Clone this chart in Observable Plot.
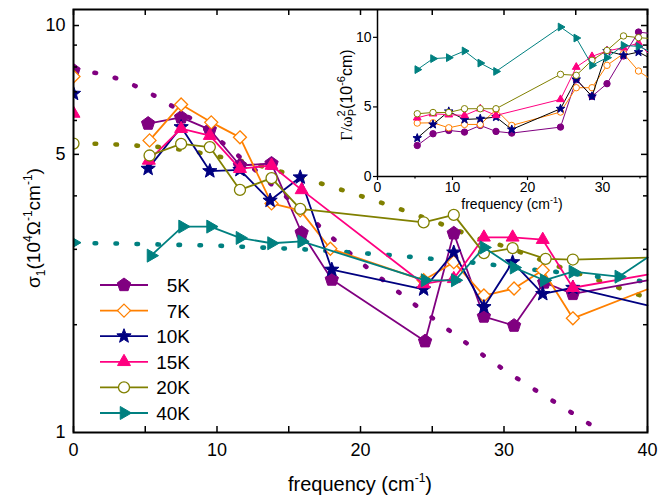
<!DOCTYPE html>
<html><head><meta charset="utf-8">
<script src="https://cdn.jsdelivr.net/npm/d3@7"></script>
<script src="https://cdn.jsdelivr.net/npm/@observablehq/plot@0.6"></script>
<style>
body{margin:0;background:#fff;}
#chart{position:relative;width:660px;height:497px;font-family:"Liberation Sans",Arial,sans-serif;}
#chart svg{position:absolute;}
</style></head><body><div id="chart"></div>
<script>
// ---------- main panel data: sigma_1 (10^4 Ohm^-1 cm^-1) vs frequency (cm^-1)
const seriesNames = ["5K","7K","10K","15K","20K","40K"];
const seriesColors = ["#800080","#FF8000","#000080","#FF0080","#808000","#008080"];

const freq5K  = [5.2, 7.5, 9.5, 11.6, 13.8, 15.9, 18.0, 24.5, 26.5, 28.6, 30.7, 32.8, 34.8, 40];
const sigma5K = [5.90, 6.10, 5.71, 4.71, 4.76, 3.28, 2.55, 1.83, 3.27, 2.09, 1.99, 2.51, 2.36, 2.54];
const freq7K  = [5.3, 7.5, 9.6, 11.6, 13.8, 15.8, 17.9, 24.4, 26.5, 28.6, 30.7, 32.7, 34.8, 40];
const sigma7K = [5.39, 6.54, 5.94, 5.48, 3.84, 3.70, 3.01, 2.54, 2.80, 2.34, 2.43, 2.68, 2.07, 2.42];
const freq10K  = [5.2, 7.5, 9.5, 11.6, 13.7, 15.8, 18.0, 24.4, 26.5, 28.6, 30.6, 32.7, 34.8, 40];
const sigma10K = [4.63, 5.79, 4.57, 4.60, 3.90, 4.42, 2.69, 2.42, 2.95, 2.20, 2.80, 2.36, 2.44, 2.22];
const freq15K  = [5.25, 7.5, 9.5, 11.6, 13.8, 15.9, 24.4, 26.5, 28.6, 30.6, 32.7, 34.8, 40];
const sigma15K = [4.84, 5.74, 5.53, 4.63, 4.71, 4.13, 2.49, 2.56, 3.20, 3.20, 3.16, 2.44, 2.62];
const freq20K  = [5.3, 7.5, 9.5, 11.6, 13.8, 15.8, 24.4, 26.5, 28.6, 30.6, 32.9, 34.8, 40];
const sigma20K = [4.97, 5.29, 5.20, 4.13, 4.40, 3.73, 3.47, 3.61, 2.94, 3.02, 2.85, 2.84, 2.87];
const freq40K  = [5.4, 7.6, 9.55, 11.6, 13.8, 15.9, 24.5, 26.6, 28.6, 30.7, 32.8, 34.8, 38.0, 40];
const sigma40K = [2.90, 3.39, 3.39, 3.19, 3.10, 3.13, 2.54, 2.54, 3.03, 2.72, 2.54, 2.66, 2.59, 2.87];

// DC values at zero frequency (same order as seriesNames)
const dcSigma = [7.85, 7.60, 6.93, 6.23, 5.30, 3.11];

// dotted Drude curves (5K, 20K, 40K)
const drudeFreq = [0,2,4,6,8,10,12,14,16,18,20,22,24,26,28,30,32,34,36,38,40];
const drude5K  = [7.85,7.70,7.30,6.75,6.12,5.45,4.80,4.20,3.68,3.20,2.80,2.48,2.20,1.96,1.75,1.57,1.42,1.29,1.17,1.06,0.97];
const drude20K = [5.30,5.29,5.25,5.20,5.10,4.95,4.80,4.60,4.40,4.20,4.00,3.80,3.60,3.40,3.20,3.05,2.88,2.72,2.58,2.44,2.31];
const drude40K = [3.10,3.10,3.09,3.08,3.07,3.06,3.04,3.02,3.00,2.97,2.94,2.91,2.87,2.83,2.79,2.74,2.69,2.65,2.60,2.56,2.52];

// axis ticks
const xTickLabels = [0,10,20,30,40];
const xTickMarks = [0,5,10,15,20,25,30,35,40];
const yTickValues = [1.12,5,10];
const yTickLabels = ["1","5","10"];
const yMinorTicks = [2,3,4,6,7,8,9];
const yMajorTicks = [5,10];

// ---------- inset data: Gamma/omega_p^2 (10^-6 cm) vs frequency
const insetFreq     = [5.3, 7.4, 9.5, 11.6, 13.7, 15.8, 17.9, 24.4, 26.5, 28.6, 30.6, 32.8, 34.8, 36];
const insetFreqNo18 = [5.3, 7.4, 9.5, 11.6, 13.7, 15.8, 24.4, 26.5, 28.6, 30.6, 32.8, 34.8, 36];
const gamma5K  = [2.23, 3.07, 3.31, 3.19, 3.67, 3.24, 3.12, 3.55, 6.96, 5.76, 6.67, 8.66, 10.38, 10.3];
const gamma7K  = [3.84, 3.86, 3.50, 3.74, 3.74, 4.80, 3.67, 4.63, 6.38, 6.38, 7.99, 8.83, 7.58, 7.14];
const gamma10K = [2.76, 3.74, 4.68, 4.10, 4.15, 4.27, 3.38, 4.87, 6.98, 5.76, 9.02, 8.71, 8.94, 8.6];
const gamma15K = [4.22, 4.51, 4.44, 4.39, 4.87, 4.39, 5.54, 7.86, 8.63, 9.02, 9.26, 9.59, 8.9];
const gamma20K = [4.51, 4.60, 4.60, 4.87, 4.87, 4.87, 7.34, 7.27, 8.35, 9.06, 10.1, 9.98, 9.93];
const gamma40K = [7.68, 8.47, 8.54, 9.02, 8.15, 7.55, 10.74, 9.95, 7.99, 8.54, 9.42, 9.35, 9.06];
const insetXTicks = [0,10,20,30];
const insetXMinor = [5,15,25,35];
const insetYTicks = [0,5,10];

// ---------- symbols
function poly(n, rot, k){
  return {draw(ctx, size){
    const R = Math.sqrt(size/Math.PI)*k;
    for(let i=0;i<n;i++){
      const a = rot + i*2*Math.PI/n;
      const x = R*Math.cos(a), y = R*Math.sin(a);
      if(i===0) ctx.moveTo(x,y); else ctx.lineTo(x,y);
    }
    ctx.closePath();
  }};
}
const symPentagon = poly(5, -Math.PI/2, 1);
const symDiamond = poly(4, -Math.PI/2, 1);
const symTriUp = poly(3, -Math.PI/2, 1);
const symTriRight = poly(3, 0, 1);
const symCircle = {draw(ctx,size){const r=Math.sqrt(size/Math.PI); ctx.moveTo(r,0); ctx.arc(0,0,r,0,2*Math.PI);}};
const symStar = {draw(ctx,size){
  const R=Math.sqrt(size/Math.PI), r=R*0.42;
  for(let i=0;i<10;i++){
    const a=-Math.PI/2+i*Math.PI/5, rr=i%2?r:R;
    const x=rr*Math.cos(a), y=rr*Math.sin(a);
    if(i===0) ctx.moveTo(x,y); else ctx.lineTo(x,y);
  }
  ctx.closePath();
}};

const mainFreqs = [freq5K,freq7K,freq10K,freq15K,freq20K,freq40K];
const mainSigmas = [sigma5K,sigma7K,sigma10K,sigma15K,sigma20K,sigma40K];
const mainSym = [symPentagon,symDiamond,symStar,symTriUp,symCircle,symTriRight];
const mainR = [7,6.5,7.5,7.5,5.5,7.5];
const openSym = [false,true,false,false,true,false];
const insetFreqs = [insetFreq,insetFreq,insetFreq,insetFreqNo18,insetFreqNo18,insetFreqNo18];
const insetGammas = [gamma5K,gamma7K,gamma10K,gamma15K,gamma20K,gamma40K];
const insetSym = [symCircle,symCircle,symStar,symTriUp,symCircle,symTriRight];
const insetR = [3.2,3.2,4.5,4.5,3.2,4.5];

// ---------- main plot
const MW=660, MH=497, ML=73, MR=13, MT=9, MB=65;
const IW = MW-ML-MR, IH = MH-MT-MB;
const marks = [];
const drudeSets = [[drude5K,seriesColors[0]],[drude20K,seriesColors[4]],[drude40K,seriesColors[5]]];
for(const [vals,col] of drudeSets){
  marks.push(Plot.line(drudeFreq.map((f,i)=>({f, s: vals[i]})), {x:"f", y:"s", stroke: col, strokeWidth: 4.6, strokeDasharray: "1.5,19.5", strokeLinecap: "round", curve: "catmull-rom", clip: true}));
}
seriesNames.forEach((name,k)=>{
  const rows = mainFreqs[k].map((f,i)=>({f, s: mainSigmas[k][i]}));
  marks.push(Plot.line(rows, {x:"f", y:"s", stroke: seriesColors[k], strokeWidth: 1.8}));
  marks.push(Plot.dot(rows.filter(d=>d.f<39.9), {x:"f", y:"s", symbol: mainSym[k], r: mainR[k], fill: openSym[k]?"white":seriesColors[k], stroke: seriesColors[k], strokeWidth: openSym[k]?1.3:1}));
  marks.push(Plot.dot([{f:0, s: dcSigma[k]}], {x:"f", y:"s", symbol: mainSym[k], r: mainR[k], fill: openSym[k]?"white":seriesColors[k], stroke: seriesColors[k], strokeWidth: openSym[k]?1.3:1, clip: true}));
});
marks.push(
  Plot.frame({stroke:"black", strokeWidth: 2}),
  Plot.tickX(xTickMarks, {x: d=>d, insetTop: IH-6, stroke:"black", strokeWidth:1.5}),
  Plot.tickX(xTickMarks, {x: d=>d, insetBottom: IH-6, stroke:"black", strokeWidth:1.5}),
  Plot.tickY(yMinorTicks, {y: d=>d, insetRight: IW-4, stroke:"black", strokeWidth:1.5}),
  Plot.tickY(yMinorTicks, {y: d=>d, insetLeft: IW-4, stroke:"black", strokeWidth:1.5}),
  Plot.tickY(yMajorTicks, {y: d=>d, insetRight: IW-6, stroke:"black", strokeWidth:1.5}),
  Plot.tickY(yMajorTicks, {y: d=>d, insetLeft: IW-6, stroke:"black", strokeWidth:1.5}),
  Plot.axisX({ticks: xTickLabels, tickSize: 0, tickPadding: 11, label: null}),
  Plot.axisY({ticks: yTickValues, tickFormat: d => yTickLabels[yTickValues.indexOf(d)], tickSize: 0, tickPadding: 8, label: null})
);
const main = Plot.plot({
  width: MW, height: MH, marginLeft: ML, marginRight: MR, marginTop: MT, marginBottom: MB,
  x: {domain: [0,40]},
  y: {type: "log", domain: [1.12, 10.9]},
  style: {fontFamily: "'Liberation Sans', Arial, sans-serif", fontSize: "18px", color: "black", background: "transparent", overflow: "visible"},
  marks
});
main.style.left = "0px"; main.style.top = "0px";
document.getElementById("chart").appendChild(main);

const msvg = d3.select(main);
// axis titles
const xt = msvg.append("text").attr("x", 360).attr("y", 491).attr("text-anchor","middle")
  .attr("font-size", 20).attr("font-family","'Liberation Sans', Arial, sans-serif").attr("fill","black");
xt.append("tspan").text("frequency (cm");
xt.append("tspan").attr("dy", -9).attr("font-size", 12).text("-1");
xt.append("tspan").attr("dy", 9).text(")");

const yt = msvg.append("text").attr("transform","translate(40,228) rotate(-90)").attr("text-anchor","middle")
  .attr("font-size", 19).attr("font-family","'Liberation Sans', Arial, sans-serif").attr("fill","black");
yt.append("tspan").text("σ");
yt.append("tspan").attr("dy", 5).attr("font-size", 12).text("1");
yt.append("tspan").attr("dy", -5).text("(10");
yt.append("tspan").attr("dy", -8).attr("font-size", 12).text("4");
yt.append("tspan").attr("dy", 8).text("Ω");
yt.append("tspan").attr("dy", -8).attr("font-size", 12).text("-1");
yt.append("tspan").attr("dy", 8).text("cm");
yt.append("tspan").attr("dy", -8).attr("font-size", 12).text("-1");
yt.append("tspan").attr("dy", 8).text(")");

// legend
const lg = msvg.append("g");
seriesNames.forEach((name,k)=>{
  const y = 285 + k*25.6;
  lg.append("line").attr("x1",100).attr("x2",148).attr("y1",y).attr("y2",y).attr("stroke",seriesColors[k]).attr("stroke-width",1.8);
  const p = d3.path(); mainSym[k].draw(p, Math.PI*mainR[k]*mainR[k]);
  lg.append("path").attr("d", p.toString()).attr("transform",`translate(124,${y})`)
    .attr("fill", openSym[k]?"white":seriesColors[k]).attr("stroke", seriesColors[k]).attr("stroke-width", openSym[k]?1.3:1);
  lg.append("text").attr("x",190).attr("y",y+7).attr("text-anchor","end").attr("font-size",19)
    .attr("font-family","'Liberation Sans', Arial, sans-serif").attr("fill","black").text(name);
});

// ---------- inset plot
const IL = 50, IR = 13, ITop = 9, IB = 30, INW = 333, INH = 206;
const imarks = [
  Plot.ruleX([0], {stroke:"black", strokeWidth: 1.5}),
  Plot.ruleY([0], {stroke:"black", strokeWidth: 1.5})
];
seriesNames.forEach((name,k)=>{
  const rows = insetFreqs[k].map((f,i)=>({f, g: insetGammas[k][i]}));
  imarks.push(Plot.line(rows, {x:"f", y:"g", stroke: k===2 ? "#000" : seriesColors[k], strokeWidth: 1}));
  imarks.push(Plot.dot(rows.filter(d=>d.f<35.9), {x:"f", y:"g", symbol: insetSym[k], r: insetR[k], fill: openSym[k]?"white":seriesColors[k], stroke: seriesColors[k], strokeWidth: 1}));
});
imarks.push(
  Plot.axisX({ticks: insetXTicks, tickSize: 4, tickPadding: 2, label: null, strokeWidth: 1.2}),
  Plot.axisX({ticks: insetXMinor, tickSize: 2.5, tickFormat: () => "", label: null, strokeWidth: 1.2}),
  Plot.axisY({ticks: insetYTicks, tickSize: 4, tickPadding: 2, label: null, strokeWidth: 1.2})
);
const inset = Plot.plot({
  width: INW, height: INH, marginLeft: IL, marginRight: IR, marginTop: ITop, marginBottom: IB,
  x: {domain: [0,36]}, y: {domain: [0,12]},
  style: {fontFamily: "'Liberation Sans', Arial, sans-serif", fontSize: "14px", color: "black", background: "transparent", overflow: "visible"},
  marks: imarks
});
inset.style.left = (377-IL) + "px"; inset.style.top = "0px";
document.getElementById("chart").appendChild(inset);
const isvg = d3.select(inset);
const ixt = isvg.append("text").attr("x", 185).attr("y", 209).attr("text-anchor","middle")
  .attr("font-size", 14).attr("font-family","'Liberation Sans', Arial, sans-serif").attr("fill","black");
ixt.append("tspan").text("frequency (cm");
ixt.append("tspan").attr("dy", -6).attr("font-size", 9).text("-1");
ixt.append("tspan").attr("dy", 6).text(")");
const iyt = isvg.append("text").attr("transform","translate(25,95) rotate(-90)").attr("text-anchor","middle")
  .attr("font-size", 16).attr("font-family","'Liberation Sans', Arial, sans-serif").attr("fill","black");
iyt.append("tspan").attr("font-family","'Liberation Serif', serif").text("Γ/ω");
iyt.append("tspan").attr("dy", -7).attr("font-size", 11).text("2");
iyt.append("tspan").attr("dx", -6).attr("dy", 11).attr("font-size", 11).text("P");
iyt.append("tspan").attr("dy", -4).text("(10");
iyt.append("tspan").attr("dy", -7).attr("font-size", 11).text("-6");
iyt.append("tspan").attr("dy", 7).text("cm)");
</script></body></html>
